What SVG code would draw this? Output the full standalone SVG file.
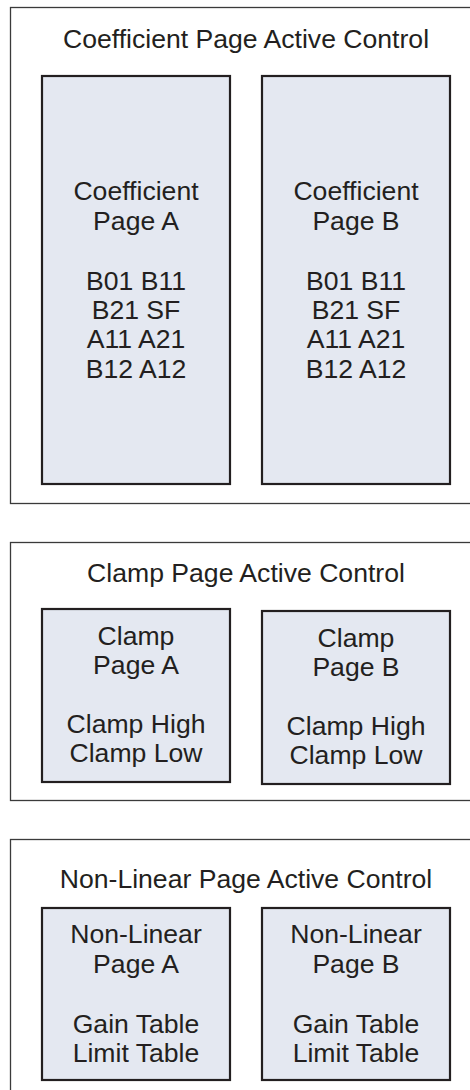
<svg xmlns="http://www.w3.org/2000/svg" width="470" height="1090" viewBox="0 0 470 1090">
<style>
.outer{fill:#ffffff;stroke:#3a3a3a;stroke-width:1.3}
.page{fill:#e4e8f1;stroke:#231f20;stroke-width:2.2}
text{font-family:"Liberation Sans",Arial,Helvetica,sans-serif;font-size:26.6px;fill:#231f20;text-anchor:middle}
</style>
<rect width="470" height="1090" fill="#ffffff"/>
<g id="coef-control">
<rect class="outer" x="10.5" y="7.5" width="470" height="496"/>
<text x="246" y="48">Coefficient Page Active Control</text>
</g>
<g id="coef-page-a">
<rect class="page" x="42" y="76" width="188" height="408"/>
<text x="136" y="200">Coefficient</text>
<text x="136" y="230">Page A</text>
<text x="136" y="290">B01 B11</text>
<text x="136" y="319">B21 SF</text>
<text x="136" y="348">A11 A21</text>
<text x="136" y="378">B12 A12</text>
</g>
<g id="coef-page-b">
<rect class="page" x="262" y="76" width="188" height="408"/>
<text x="356" y="200">Coefficient</text>
<text x="356" y="230">Page B</text>
<text x="356" y="290">B01 B11</text>
<text x="356" y="319">B21 SF</text>
<text x="356" y="348">A11 A21</text>
<text x="356" y="378">B12 A12</text>
</g>
<g id="clamp-control">
<rect class="outer" x="10.5" y="542.5" width="470" height="258"/>
<text x="246" y="582">Clamp Page Active Control</text>
</g>
<g id="clamp-page-a">
<rect class="page" x="42" y="609" width="188" height="173"/>
<text x="136" y="645">Clamp</text>
<text x="136" y="674">Page A</text>
<text x="136" y="733">Clamp High</text>
<text x="136" y="762">Clamp Low</text>
</g>
<g id="clamp-page-b">
<rect class="page" x="262" y="611" width="188" height="173"/>
<text x="356" y="647">Clamp</text>
<text x="356" y="676">Page B</text>
<text x="356" y="735">Clamp High</text>
<text x="356" y="764">Clamp Low</text>
</g>
<g id="nonlinear-control">
<rect class="outer" x="10.5" y="839.5" width="470" height="300"/>
<text x="246" y="888">Non-Linear Page Active Control</text>
</g>
<g id="nonlinear-page-a">
<rect class="page" x="42" y="908" width="188" height="172"/>
<text x="136" y="943">Non-Linear</text>
<text x="136" y="973">Page A</text>
<text x="136" y="1033">Gain Table</text>
<text x="136" y="1062">Limit Table</text>
</g>
<g id="nonlinear-page-b">
<rect class="page" x="262" y="908" width="188" height="172"/>
<text x="356" y="943">Non-Linear</text>
<text x="356" y="973">Page B</text>
<text x="356" y="1033">Gain Table</text>
<text x="356" y="1062">Limit Table</text>
</g>
<g id="connectors"></g>
</svg>
